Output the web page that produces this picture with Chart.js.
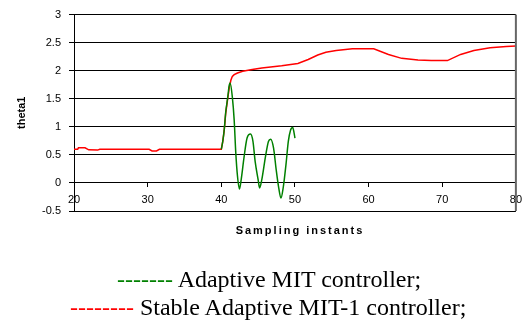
<!DOCTYPE html>
<html>
<head>
<meta charset="utf-8">
<script src="https://cdn.jsdelivr.net/npm/chart.js@4"></script>
<style>
html, body { margin: 0; padding: 0; background: #fff; }
#wrap { position: relative; width: 528px; height: 320px; overflow: hidden; }
#chart { position: absolute; left: 0; top: 0; }
.xt { position: absolute; left: 0; top: 224px; width: 600px; text-align: center;
  font: bold 11px "Liberation Sans", Arial, sans-serif; letter-spacing: 2px; color: #000; }
.leg { position: absolute; white-space: nowrap;
  font: 24px "Liberation Serif", "Times New Roman", serif; line-height: 28px; color: #000; }
</style>
</head>
<body>
<div id="wrap">
  <canvas id="chart" width="528" height="320"></canvas>
  <div class="xt">Sampling instants</div>
  <div class="leg" style="left:117px;top:265px"><span style="color:#008000">-------</span> Adaptive MIT controller;</div>
  <div class="leg" style="left:70px;top:293px"><span style="color:#ff0000">--------</span> Stable Adaptive MIT-1 controller;</div>
</div>
<script>
// Adaptive MIT controller (green)
var greenX = [40.0, 40.2, 40.4, 40.6, 40.9, 41.05, 41.2, 41.5, 41.75, 41.97, 42.2, 42.46, 42.7, 43.1, 43.5, 43.97,
  44.3, 44.6, 45.0, 45.2, 45.5, 46.0, 46.4, 46.7, 47.1, 47.45, 47.8, 48.1, 48.4, 48.8, 49.1, 49.4, 49.7, 49.9, 50.0];
var greenY = [0.6, 0.74, 0.95, 1.26, 1.55, 1.72, 1.78, 1.53, 1.12, 0.53, 0.12, -0.11, 0.06, 0.47, 0.80, 0.87,
  0.74, 0.38, 0.06, -0.09, 0.06, 0.47, 0.74, 0.78, 0.62, 0.24, -0.09, -0.27, -0.09, 0.35, 0.74, 0.94, 0.99, 0.88, 0.80];

// Stable Adaptive MIT-1 controller (red)
var redX = [20, 20.5, 20.6, 21.5, 22, 23.2, 23.5, 30.2, 30.6, 31.2, 31.6, 40, 40.2, 40.4, 40.6, 40.9, 41.1, 41.3,
  41.5, 41.75, 42.2, 42.9, 44.2, 45.5, 48.2, 50.4, 51.8, 53.1, 54.2, 55.6, 57.8, 60.7, 62.7, 64.5, 66.7, 68.5,
  70.7, 72.5, 74.3, 76.5, 78.7, 80];
var redY = [0.6, 0.6, 0.625, 0.625, 0.59, 0.585, 0.6, 0.6, 0.57, 0.57, 0.6, 0.6, 0.74, 0.94, 1.24, 1.53, 1.71, 1.83,
  1.9, 1.93, 1.96, 1.99, 2.02, 2.05, 2.09, 2.13, 2.2, 2.28, 2.33, 2.36, 2.39, 2.39, 2.29, 2.22, 2.19, 2.18,
  2.18, 2.29, 2.36, 2.41, 2.43, 2.44];

function pts(xs, ys) {
  return xs.map(function (x, i) { return { x: x, y: ys[i] }; });
}

var tickFont = { family: '"Liberation Sans", Arial, sans-serif', size: 11 };

// right edge of the plot box
var frame = {
  id: 'frame',
  afterDraw: function (chart) {
    var a = chart.chartArea, c = chart.ctx;
    c.save();
    c.strokeStyle = '#666';
    c.lineWidth = 2;
    c.beginPath();
    c.moveTo(a.right, a.top);
    c.lineTo(a.right, a.bottom);
    c.stroke();
    c.restore();
  }
};

var ctx = document.getElementById('chart').getContext('2d');
var chart = new Chart(ctx, {
  type: 'line',
  data: {
    datasets: [{
      label: 'Adaptive MIT controller;',
      data: pts(greenX, greenY),
      borderColor: '#008000',
      borderWidth: 1.5,
      pointRadius: 0,
      cubicInterpolationMode: 'monotone'
    }, {
      label: 'Stable Adaptive MIT-1 controller;',
      data: pts(redX, redY),
      borderColor: '#ff0000',
      borderWidth: 1.5,
      pointRadius: 0
    }]
  },
  options: {
    responsive: false,
    animation: false,
    layout: { padding: { top: 14, right: 5, bottom: 109, left: 0 } },
    plugins: { legend: { display: false }, tooltip: { enabled: false } },
    scales: {
      x: {
        type: 'linear',
        position: { y: 0 },
        min: 20, max: 80,
        ticks: { stepSize: 10, color: '#000', font: tickFont, padding: 6, maxRotation: 0 },
        grid: { drawOnChartArea: false, tickLength: 4, color: '#000' },
        border: { color: '#000' }
      },
      y: {
        min: -0.5, max: 3,
        ticks: {
          stepSize: 0.5, color: '#000', font: tickFont, padding: 8,
          callback: function (v) { return String(v); }
        },
        grid: { color: '#000', tickLength: 5 },
        border: { color: '#000' },
        title: {
          display: true, text: 'theta1', color: '#000',
          font: { family: '"Liberation Sans", Arial, sans-serif', size: 11, weight: 'bold' },
          padding: { top: 15 }
        },
        afterFit: function (s) { s.width = 74; }
      }
    }
  },
  plugins: [frame]
});
</script>
</body>
</html>
